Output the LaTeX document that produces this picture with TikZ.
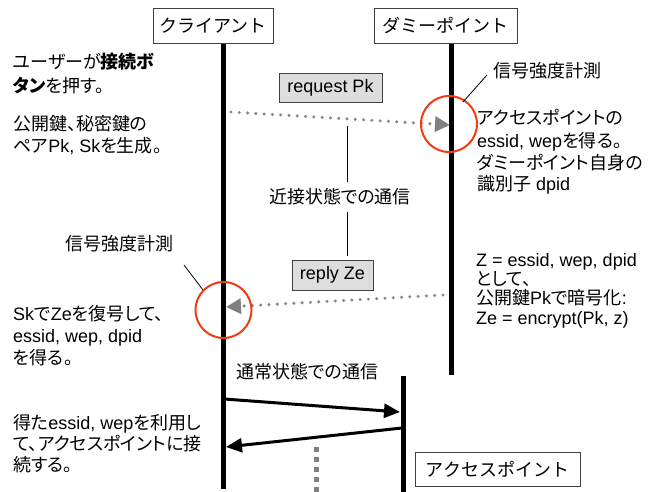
\documentclass[tikz,border=0pt]{standalone}
\usepackage{fontspec}
\setmainfont{Liberation Sans}
\newfontfamily\jp[RawFeature=+palt]{Noto Sans CJK JP}
\newfontfamily\jpbox{Noto Sans CJK JP}
\newcommand\J[1]{{\jp #1}}
\newcommand\JB[1]{{\jp\bfseries #1}}
\usetikzlibrary{arrows.meta}
\definecolor{boxfill}{HTML}{DDDDDD}
\definecolor{boxdraw}{HTML}{404040}
\definecolor{dotgray}{HTML}{888888}
\definecolor{tipgray}{HTML}{808080}
\definecolor{circred}{HTML}{F03C14}
\tikzset{
  titlebox/.style={draw=boxdraw, line width=0.8pt, fill=white, inner sep=0pt, font=\fontsize{18}{22}\selectfont\jpbox},
  msgbox/.style={draw=boxdraw, line width=0.8pt, fill=boxfill, inner sep=0pt, font=\fontsize{18}{22}\selectfont},
  txt/.style={inner sep=0pt, anchor=base west, font=\fontsize{18}{22}\selectfont},
  ctxt/.style={inner sep=0pt, anchor=base, font=\fontsize{18}{22}\selectfont},
  life/.style={line width=5pt, black},
  dotmsg/.style={dotgray, line width=3.4pt, line cap=round, dash pattern=on 0pt off 8.3pt, -{Triangle[length=15pt,width=15pt,color=tipgray]}},
  solidmsg/.style={black, line width=3pt, -{Triangle[length=16pt,width=14pt]}},
  leader/.style={black, line width=0.8pt},
  ring/.style={circred, line width=2pt},
  gapline/.style={tipgray, line width=5pt, dash pattern=on 5pt off 5pt}
}
\begin{document}
\begin{tikzpicture}[x=1pt,y=-1pt]
\useasboundingbox (0,0) rectangle (648,492);
\fill[white] (0,0) rectangle (648,492);

% lifeline coordinates
\coordinate (clT) at (223,43);
\coordinate (clB) at (223,489);
\coordinate (dmT) at (451,43);
\coordinate (dmB) at (451,375);
\coordinate (apT) at (403,376);
\coordinate (apB) at (403,492);
\draw[life] (clT) -- (clB);
\draw[life] (dmT) -- (dmB);
\draw[life] (apT) -- (apB);

% title boxes
\node[titlebox, minimum width=120pt, minimum height=35pt] (cl) at (213,25.5) {クライアント};
\node[titlebox, minimum width=143pt, minimum height=35pt] (dm) at (445.5,25.5) {ダミーポイント};
\node[titlebox, minimum width=165pt, minimum height=34pt] (ap) at (497.5,469) {アクセスポイント};

% message boxes
\node[msgbox, minimum width=103pt, minimum height=29pt] (req) at (330.5,87.5) {request Pk};
\node[msgbox, minimum width=81pt, minimum height=30pt] (rep) at (332.5,275) {reply Ze};

% proximity label with vertical line
\node[ctxt] (prox) at (340,204) {\J{近接状態での通信}};
\coordinate (pxA) at (347,126);
\coordinate (pxB) at (347,182);
\coordinate (pxC) at (347,212);
\coordinate (pxD) at (347,256);
\draw[leader] (pxA) -- (pxB);
\draw[leader] (pxC) -- (pxD);

% dotted messages
\coordinate (rqS) at (231,112);
\coordinate (rqE) at (450,125);
\draw[dotmsg] (rqS) -- (rqE);
\coordinate (rpS) at (443,295);
\coordinate (rpE) at (226,307);
\draw[dotmsg] (rpS) -- (rpE);

% red rings
\node[ring, draw, circle, minimum size=56pt, inner sep=0pt] (ringR) at (449,124) {};
\node[ring, draw, circle, minimum size=56pt, inner sep=0pt] (ringL) at (223.5,310) {};

% signal strength labels and leaders
\node[txt] (sigR) at (493,78) {\J{信号強度計測}};
\coordinate (ldR1) at (487,75);
\coordinate (ldR2) at (463,102);
\draw[leader] (ldR1) -- (ldR2);
\node[ctxt] (sigL) at (119,250) {\J{信号強度計測}};
\coordinate (ldL1) at (184,265);
\coordinate (ldL2) at (203,290);
\draw[leader] (ldL1) -- (ldL2);

% left texts
\node[txt] (l1a) at (13,69) {\J{ユーザーが}\JB{接続ボ}};
\node[txt] (l1b) at (13,93) {\JB{タン}\J{を押す。}};
\node[txt] (l2a) at (13,131) {\J{公開鍵、秘密鍵の}};
\node[txt] (l2b) at (13,153) {\J{ペア}Pk, Sk\J{を生成。}};
\node[txt] (l3a) at (13,320) {Sk\J{で}Ze\J{を復号して、}};
\node[txt] (l3b) at (13,342) {essid, wep, dpid};
\node[txt] (l3c) at (13,364) {\J{を得る。}};
\node[txt] (l4a) at (13,429) {\J{得た}essid, wep\J{を利用し}};
\node[txt] (l4b) at (13,450) {\J{て、アクセスポイントに接}};
\node[txt] (l4c) at (13,471) {\J{続する。}};

% right texts
\node[txt] (r1a) at (477,125) {\J{アクセスポイントの}};
\node[txt] (r1b) at (477,148) {essid, wep\J{を得る。}};
\node[txt] (r1c) at (477,169) {\J{ダミーポイント自身の}};
\node[txt] (r1d) at (477,190) {\J{識別子} dpid};
\node[txt] (r2a) at (476,266) {Z = essid, wep, dpid};
\node[txt] (r2b) at (476,285) {\J{として、}};
\node[txt] (r2c) at (476,304) {\J{公開鍵}Pk\J{で暗号化}:};
\node[txt] (r2d) at (476,324) {Ze = encrypt(Pk, z)};

% normal communication
\node[txt] (norm) at (236,378) {\J{通常状態での通信}};
\coordinate (m1S) at (224,399);
\coordinate (m1E) at (400,412);
\draw[solidmsg] (m1S) -- (m1E);
\coordinate (m2S) at (402,428);
\coordinate (m2E) at (226,447);
\draw[solidmsg] (m2S) -- (m2E);
\coordinate (gpT) at (316,447);
\coordinate (gpB) at (316,492);
\draw[gapline] (gpT) -- (gpB);
\end{tikzpicture}
\end{document}
